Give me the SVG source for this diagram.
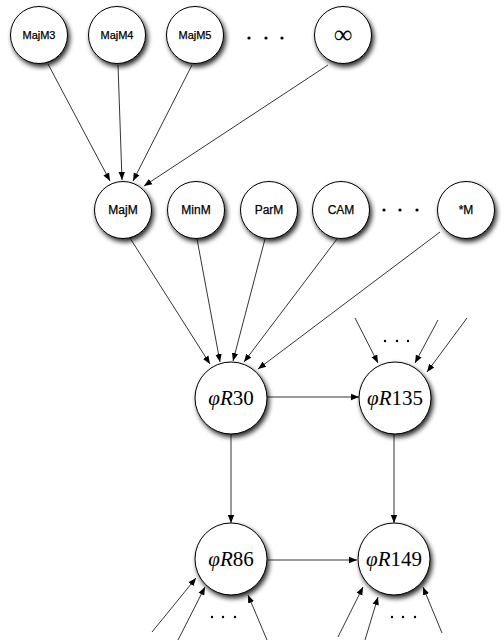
<svg xmlns="http://www.w3.org/2000/svg" width="504" height="644" viewBox="0 0 504 644">
<style>
.n{fill:#fff;stroke:#000;stroke-width:1;filter:url(#sh)}
.s{font-family:"Liberation Sans",Arial,sans-serif;font-size:11px;text-anchor:middle;fill:#000;stroke:#000;stroke-width:0.25}
.s2{font-size:12px}
.m{font-family:"Liberation Serif","Times New Roman",serif;font-size:21px;text-anchor:middle;fill:#000}
.m .i{font-style:italic}
.e{stroke:#000;stroke-width:0.8;fill:none;marker-end:url(#ah)}
.d{fill:#000}
</style>
<defs>
<filter id="sh" x="-30%" y="-30%" width="170%" height="170%">
<feGaussianBlur in="SourceAlpha" stdDeviation="2.5"/>
<feOffset dx="2" dy="3" result="b"/>
<feComponentTransfer><feFuncA type="linear" slope="0.85"/></feComponentTransfer>
<feMerge><feMergeNode/><feMergeNode in="SourceGraphic"/></feMerge>
</filter>
<marker id="ah" viewBox="0 0 10 10" refX="10" refY="5" markerWidth="8" markerHeight="8" markerUnits="userSpaceOnUse" orient="auto">
<path d="M0,1 L10,5 L0,9 z" fill="#000"/>
</marker>
</defs>
<g id="connectors">
<line class="e" x1="48" y1="64" x2="110" y2="181"/>
<line class="e" x1="118" y1="65" x2="122" y2="180"/>
<line class="e" x1="192" y1="65" x2="133" y2="181"/>
<line class="e" x1="328" y1="65" x2="144" y2="186"/>
<line class="e" x1="130" y1="238" x2="210" y2="364"/>
<line class="e" x1="197" y1="239" x2="220" y2="362"/>
<line class="e" x1="265" y1="239" x2="233" y2="361"/>
<line class="e" x1="337" y1="239" x2="244" y2="362"/>
<line class="e" x1="440" y1="232" x2="258" y2="369"/>
<line class="e" x1="355" y1="318" x2="378" y2="363"/>
<line class="e" x1="438" y1="320" x2="415" y2="363"/>
<line class="e" x1="467" y1="318" x2="427" y2="372"/>
<line class="e" x1="267" y1="397" x2="359" y2="397"/>
<line class="e" x1="231" y1="434" x2="231" y2="523"/>
<line class="e" x1="394" y1="434" x2="394" y2="523"/>
<line class="e" x1="268" y1="560" x2="357" y2="560"/>
<line class="e" x1="152" y1="632" x2="196" y2="578"/>
<line class="e" x1="178" y1="640" x2="205" y2="587"/>
<line class="e" x1="267" y1="640" x2="248" y2="595"/>
<line class="e" x1="338" y1="637" x2="363" y2="587"/>
<line class="e" x1="365" y1="640" x2="378" y2="597"/>
<line class="e" x1="442" y1="633" x2="423" y2="587"/>
</g>
<g id="dots">
<circle class="d" cx="249" cy="38" r="1.6"/><circle class="d" cx="266" cy="38" r="1.6"/><circle class="d" cx="282" cy="38" r="1.6"/>
<circle class="d" cx="384" cy="210" r="1.6"/><circle class="d" cx="400" cy="210" r="1.6"/><circle class="d" cx="417" cy="210" r="1.6"/>
<circle class="d" cx="385" cy="341" r="1.2"/><circle class="d" cx="397" cy="341" r="1.2"/><circle class="d" cx="408" cy="341" r="1.2"/>
<circle class="d" cx="212" cy="617" r="1.2"/><circle class="d" cx="223" cy="617" r="1.2"/><circle class="d" cx="235" cy="617" r="1.2"/>
<circle class="d" cx="392" cy="617" r="1.2"/><circle class="d" cx="403" cy="617" r="1.2"/><circle class="d" cx="415" cy="617" r="1.2"/>
</g>
<g id="MajM3"><circle class="n" cx="39" cy="35" r="28.5"/><text class="s" x="39" y="39">MajM3</text></g>
<g id="MajM4"><circle class="n" cx="117" cy="35" r="28.5"/><text class="s" x="117" y="39">MajM4</text></g>
<g id="MajM5"><circle class="n" cx="195" cy="35" r="28.5"/><text class="s" x="195" y="39">MajM5</text></g>
<g id="Inf"><circle class="n" cx="343" cy="35" r="28.5"/><text x="343" y="43" style="font-size:26px;font-family:'Liberation Serif',serif;text-anchor:middle;fill:#000">∞</text></g>
<g id="MajM"><circle class="n" cx="123" cy="210" r="28.5"/><text class="s s2" x="123" y="214">MajM</text></g>
<g id="MinM"><circle class="n" cx="196" cy="210" r="28.5"/><text class="s s2" x="196" y="214">MinM</text></g>
<g id="ParM"><circle class="n" cx="269" cy="210" r="28.5"/><text class="s s2" x="269" y="214">ParM</text></g>
<g id="CAM"><circle class="n" cx="341" cy="210" r="28.5"/><text class="s s2" x="341" y="214">CAM</text></g>
<g id="StarM"><circle class="n" cx="466" cy="210" r="28.5"/><text class="s s2" x="466" y="214">*M</text></g>
<g id="R30"><circle class="n" cx="231" cy="398" r="36"/><text class="m" x="231" y="405"><tspan class="i">φR</tspan>30</text></g>
<g id="R135"><circle class="n" cx="395" cy="398" r="36"/><text class="m" x="395" y="405"><tspan class="i">φR</tspan>135</text></g>
<g id="R86"><circle class="n" cx="231" cy="559" r="36"/><text class="m" x="231" y="566"><tspan class="i">φR</tspan>86</text></g>
<g id="R149"><circle class="n" cx="394" cy="559" r="36"/><text class="m" x="394" y="566"><tspan class="i">φR</tspan>149</text></g>
</svg>
